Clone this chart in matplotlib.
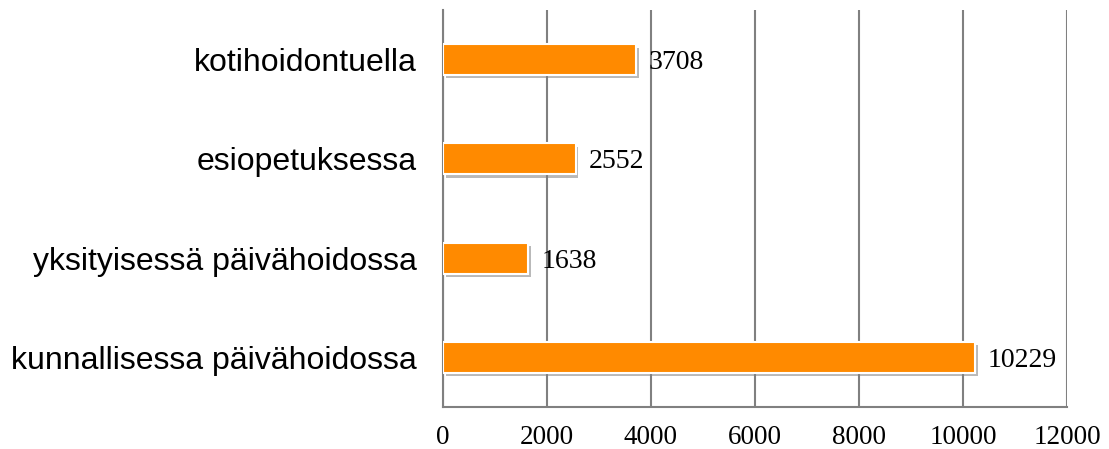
import matplotlib
matplotlib.use('Agg')
import matplotlib.pyplot as plt
import matplotlib.patheffects as pe

categories = ['kunnallisessa päivähoidossa', 'yksityisessä päivähoidossa',
              'esiopetuksessa', 'kotihoidontuella']
values = [10229, 1638, 2552, 3708]
xticks = [0, 2000, 4000, 6000, 8000, 10000, 12000]

fig = plt.figure(figsize=(11.09, 4.49), dpi=100)
ax = fig.add_axes([443/1109, 42/449, (1067-443)/1109, (407-10)/449])

bars = ax.barh(range(len(categories)), values, height=0.31, color='#FF8A00',
               edgecolor='white', linewidth=1.5, zorder=3)
for b in bars:
    b.set_path_effects([pe.SimplePatchShadow(offset=(2, -2.5), shadow_rgbFace='#808080', alpha=0.55),
                        pe.Normal()])

for i, v in enumerate(values):
    ax.text(v + 250, i, str(v), va='center_baseline', ha='left',
            family='Liberation Serif', fontsize=20)

ax.set_xlim(0, 12000)
ax.set_ylim(-0.5, len(categories) - 0.5)
ax.set_xticks(xticks)
ax.set_xticklabels([str(t) for t in xticks], family='Liberation Serif', fontsize=19.5)
ax.set_yticks(range(len(categories)))
ax.set_yticklabels(categories, family='Liberation Sans', fontsize=23)
ax.tick_params(axis='both', length=0)
ax.tick_params(axis='x', pad=13)
ax.tick_params(axis='y', pad=19)

ax.grid(axis='x', color='#808080', linewidth=1.5, zorder=0)
for s in ['top', 'right']:
    ax.spines[s].set_visible(False)
for s in ['left', 'bottom']:
    ax.spines[s].set_color('#808080')
    ax.spines[s].set_linewidth(1.5)

fig.savefig('out.png', dpi=100)
